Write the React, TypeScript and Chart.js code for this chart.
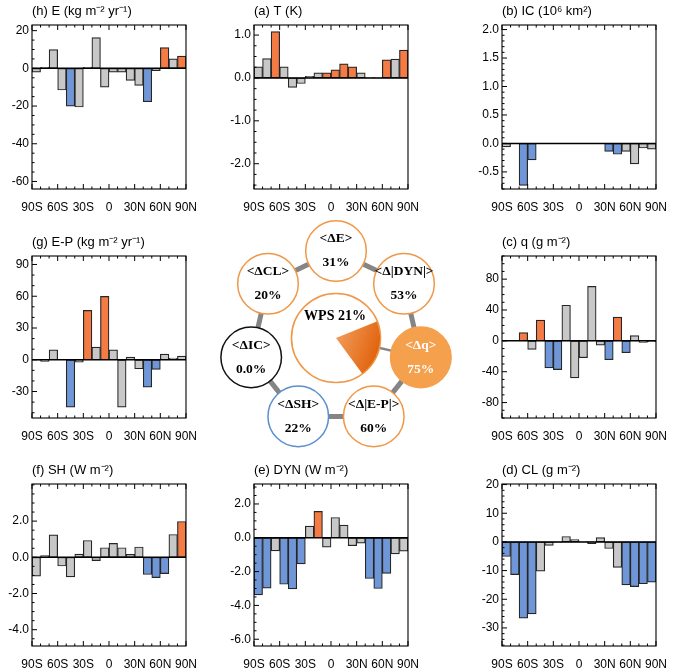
import React, { useEffect, useRef } from 'react';
import { Chart, registerables } from 'chart.js';

Chart.register(...registerables);

// ---------- shared latitude axis ----------
const LAT_CENTERS = [-85, -75, -65, -55, -45, -35, -25, -15, -5, 5, 15, 25, 35, 45, 55, 65, 75, 85];
const LAT_TICKS = [-90, -60, -30, 0, 30, 60, 90];

// ---------- (h) E ----------
const E_TITLE = '(h) E (kg m⁻² yr⁻¹)';
const E_VALUES = [-2, 0.5, 10, -11.5, -20, -20.5, 0.6, 16.3, -10, -2, -2, -6.4, -9, -17.7, -1.2, 11, 5, 6.5];
const E_SIG = [0, 0, 0, 0, 1, 0, 0, 0, 0, 0, 0, 0, 0, 1, 0, 1, 0, 1];
const E_RANGE = [-64, 23];
const E_TICKS = [-60, -40, -20, 0, 20];

// ---------- (a) T ----------
const T_TITLE = '(a) T (K)';
const T_VALUES = [0.26, 0.45, 1.08, 0.26, -0.22, -0.13, 0.04, 0.12, 0.12, 0.19, 0.33, 0.26, 0.12, 0.01, 0.01, 0.42, 0.44, 0.65];
const T_SIG = [0, 0, 1, 0, 0, 0, 0, 0, 1, 1, 1, 1, 0, 0, 0, 1, 0, 1];
const T_RANGE = [-2.59, 1.235];
const T_TICKS = [-2, -1, 0, 1];

// ---------- (b) IC ----------
const IC_TITLE = '(b) IC (10⁶ km²)';
const IC_VALUES = [-0.06, 0, -0.735, -0.29, 0, 0, 0, 0, 0, 0, 0, 0, -0.14, -0.19, -0.14, -0.36, -0.08, -0.1];
const IC_SIG = [0, 0, 1, 1, 0, 0, 0, 0, 0, 0, 0, 0, 1, 1, 0, 0, 0, 0];
const IC_RANGE = [-0.8, 2.08];
const IC_TICKS = [-0.5, 0, 0.5, 1, 1.5, 2];

// ---------- (g) E-P ----------
const EP_TITLE = '(g) E-P (kg m⁻² yr⁻¹)';
const EP_VALUES = [-0.3, -1.5, 9.4, 0, -44.7, -2.2, 46.6, 12, 59.8, 9.4, -44.7, 2.5, -8.5, -25.8, -9.1, 5.4, 1.6, 3.5];
const EP_SIG = [0, 0, 0, 0, 1, 0, 1, 0, 1, 0, 0, 0, 0, 1, 1, 0, 0, 0];
const EP_RANGE = [-55, 98];
const EP_TICKS = [-30, 0, 30, 60, 90];

// ---------- (c) q ----------
const Q_TITLE = '(c) q (g m⁻²)';
const Q_VALUES = [0, 0, 10.7, -11.1, 27, -35, -37.2, 46.2, -47.9, -21.8, 70.6, -5.6, -24.4, 30.8, -15.4, 6.8, -2, -1];
const Q_SIG = [0, 0, 1, 0, 1, 1, 1, 0, 0, 0, 0, 0, 1, 1, 1, 0, 0, 0];
const Q_RANGE = [-100, 110];
const Q_TICKS = [-80, -40, 0, 40, 80];

// ---------- (f) SH ----------
const SH_TITLE = '(f) SH (W m⁻²)';
const SH_VALUES = [-1.04, 0.09, 1.24, -0.48, -1.08, 0.18, 0.93, -0.18, 0.53, 0.77, 0.53, 0.16, 0.57, -0.95, -1.12, -0.9, 1.26, 1.98];
const SH_SIG = [0, 0, 0, 0, 0, 0, 0, 0, 0, 0, 0, 0, 0, 1, 1, 1, 0, 1];
const SH_RANGE = [-4.9, 4.05];
const SH_TICKS = [-4, -2, 0, 2];

// ---------- (e) DYN ----------
const DYN_TITLE = '(e) DYN (W m⁻²)';
const DYN_VALUES = [-3.38, -2.98, -0.77, -2.75, -3.02, -1.54, 0.69, 1.56, -0.55, 1.2, 0.75, -0.47, -0.32, -2.41, -3.0, -2.11, -0.95, -0.79];
const DYN_SIG = [1, 1, 0, 1, 1, 1, 0, 1, 0, 0, 0, 0, 0, 1, 1, 1, 0, 0];
const DYN_RANGE = [-6.4, 3.18];
const DYN_TICKS = [-6, -4, -2, 0, 2];

// ---------- (d) CL ----------
const CL_TITLE = '(d) CL (g m⁻²)';
const CL_VALUES = [-5.1, -11.4, -26.6, -25.1, -10.2, -1.2, -0.2, 1.9, 0.8, 0.1, -0.6, 1.5, -2.3, -8.9, -15, -15.6, -14.6, -14];
const CL_SIG = [1, 1, 1, 1, 0, 0, 0, 0, 0, 0, 0, 0, 0, 0, 1, 1, 1, 1];
const CL_RANGE = [-36.3, 20.2];
const CL_TICKS = [-30, -20, -10, 0, 10, 20];

// ---------- centre diagram ----------
const NODE_LABELS = ['<ΔE>', '<Δ|DYN|>', '<Δq>', '<Δ|E-P|>', '<ΔSH>', '<ΔIC>', '<ΔCL>'];
const NODE_PERCENTS = ['31%', '53%', '75%', '60%', '22%', '0.0%', '20%'];
const NODE_GROUP = ['warm', 'warm', 'key', 'warm', 'cool', 'neutral', 'warm'];
const WPS_LABEL = 'WPS';
const WPS_PERCENT = 21;

// ---------- styling ----------
const SANS = '"Liberation Sans", Arial, Helvetica, sans-serif';
const SERIF = '"Liberation Serif", "Times New Roman", serif';
const ORANGE = '#f47c44';
const BLUE = '#6f96d6';
const GRAY = '#c8c8c8';
const CIRCLE_ORANGE = '#f09848';
const KEY_FILL = '#f5a04d';
const COOL = '#5b8fd0';

const COL_LEFT = [32, 254, 502];
const ROW_TOP = [25, 256, 484];
const ROW_H = [164, 162, 162];
const BOX_W = 162;
const Y_AXIS_W = 40;
const TITLE_H = 30;
const X_AXIS_H = 28;
const RIGHT_PAD = 14;

type PanelCfg = {
  title: string; values: number[]; sig: number[]; range: number[]; ticks: number[];
  dec: number; minor: number; col: number; row: number;
};

const PANELS: PanelCfg[] = [
  { title: E_TITLE, values: E_VALUES, sig: E_SIG, range: E_RANGE, ticks: E_TICKS, dec: 0, minor: 5, col: 0, row: 0 },
  { title: T_TITLE, values: T_VALUES, sig: T_SIG, range: T_RANGE, ticks: T_TICKS, dec: 1, minor: 0.25, col: 1, row: 0 },
  { title: IC_TITLE, values: IC_VALUES, sig: IC_SIG, range: IC_RANGE, ticks: IC_TICKS, dec: 1, minor: 0.1, col: 2, row: 0 },
  { title: EP_TITLE, values: EP_VALUES, sig: EP_SIG, range: EP_RANGE, ticks: EP_TICKS, dec: 0, minor: 10, col: 0, row: 1 },
  { title: Q_TITLE, values: Q_VALUES, sig: Q_SIG, range: Q_RANGE, ticks: Q_TICKS, dec: 0, minor: 10, col: 2, row: 1 },
  { title: SH_TITLE, values: SH_VALUES, sig: SH_SIG, range: SH_RANGE, ticks: SH_TICKS, dec: 1, minor: 0.5, col: 0, row: 2 },
  { title: DYN_TITLE, values: DYN_VALUES, sig: DYN_SIG, range: DYN_RANGE, ticks: DYN_TICKS, dec: 1, minor: 0.5, col: 1, row: 2 },
  { title: CL_TITLE, values: CL_VALUES, sig: CL_SIG, range: CL_RANGE, ticks: CL_TICKS, dec: 0, minor: 2, col: 2, row: 2 },
];

const latLabel = (v: number) => (v < 0 ? `${-v}S` : v > 0 ? `${v}N` : '0');

const nclFrame = {
  id: 'nclFrame',
  afterDatasetsDraw(chart: any, _args: any, opts: any) {
    const { ctx, chartArea: a, scales } = chart;
    const x = scales.x, y = scales.y;
    ctx.save();
    ctx.strokeStyle = '#000';
    const seg = (x1: number, y1: number, x2: number, y2: number) => {
      ctx.beginPath(); ctx.moveTo(x1, y1); ctx.lineTo(x2, y2); ctx.stroke();
    };
    // zero line
    ctx.lineWidth = 1.5;
    const y0 = y.getPixelForValue(0);
    seg(a.left, y0, a.right, y0);
    // frame
    ctx.lineWidth = 1.1;
    ctx.strokeRect(a.left, a.top, a.right - a.left, a.bottom - a.top);
    // y ticks (inward, left side)
    ctx.lineWidth = 1;
    const minor = opts.minor;
    const majors: number[] = opts.majors;
    const k0 = Math.ceil(y.min / minor - 1e-6), k1 = Math.floor(y.max / minor + 1e-6);
    for (let k = k0; k <= k1; k++) {
      const v = k * minor;
      const isMajor = majors.some((m) => Math.abs(m - v) < minor * 1e-3);
      const py = y.getPixelForValue(v);
      seg(a.left, py, a.left + (isMajor ? 5 : 2.5), py);
    }
    // x ticks (inward, top and bottom)
    for (let v = -90; v <= 90; v += 10) {
      const px = x.getPixelForValue(v);
      const len = v % 30 === 0 ? 5 : 2.5;
      seg(px, a.bottom, px, a.bottom - len);
      seg(px, a.top, px, a.top + len);
    }
    ctx.restore();
  },
};

function BarPanel({ cfg }: { cfg: PanelCfg }) {
  const ref = useRef<HTMLCanvasElement>(null);
  const w = Y_AXIS_W + BOX_W + RIGHT_PAD;
  const h = TITLE_H + ROW_H[cfg.row] + X_AXIS_H;
  const left = COL_LEFT[cfg.col] - Y_AXIS_W;
  const top = ROW_TOP[cfg.row] - TITLE_H;
  useEffect(() => {
    const chart = new Chart(ref.current as HTMLCanvasElement, {
      type: 'bar',
      data: {
        datasets: [
          {
            data: LAT_CENTERS.map((x, i) => ({ x, y: cfg.values[i] })),
            backgroundColor: cfg.values.map((v, i) => (cfg.sig[i] ? (v >= 0 ? ORANGE : BLUE) : GRAY)),
            borderColor: '#262626',
            borderWidth: 1.2,
            borderSkipped: false,
            categoryPercentage: 1,
            barPercentage: 1,
          } as any,
        ],
      },
      options: {
        animation: false,
        responsive: false,
        events: [],
        layout: { padding: { left: 0, right: RIGHT_PAD, top: 0, bottom: 0 } },
        plugins: {
          legend: { display: false },
          tooltip: { enabled: false },
          title: {
            display: true,
            text: cfg.title,
            align: 'start',
            fullSize: false,
            color: '#000',
            font: { family: SANS, size: 13, weight: 'normal' },
            padding: { top: 8.5, bottom: 5.9 },
          },
          nclFrame: { minor: cfg.minor, majors: cfg.ticks },
        } as any,
        scales: {
          x: {
            type: 'linear',
            min: -90,
            max: 90,
            offset: false,
            grid: { display: false, drawTicks: false },
            border: { display: false },
            afterFit: (s: any) => { s.height = X_AXIS_H; },
            afterBuildTicks: (s: any) => { s.ticks = LAT_TICKS.map((v) => ({ value: v })); },
            ticks: {
              autoSkip: false,
              maxRotation: 0,
              padding: 11,
              color: '#000',
              font: { family: SANS, size: 12 },
              callback: (v: any) => latLabel(Number(v)),
            },
          },
          y: {
            type: 'linear',
            min: cfg.range[0],
            max: cfg.range[1],
            grid: { display: false, drawTicks: false },
            border: { display: false },
            afterFit: (s: any) => { s.width = Y_AXIS_W; },
            afterBuildTicks: (s: any) => { s.ticks = cfg.ticks.map((v) => ({ value: v })); },
            ticks: {
              padding: 3,
              color: '#000',
              font: { family: SANS, size: 12 },
              callback: (v: any) => Number(v).toFixed(cfg.dec),
            },
          },
        } as any,
      },
      plugins: [nclFrame as any],
    });
    return () => chart.destroy();
  }, []);
  return (
    <canvas
      ref={ref}
      width={w}
      height={h}
      style={{ position: 'absolute', left, top, width: w, height: h }}
    />
  );
}

// centre diagram geometry
const RING_CX = 336;
const RING_CY = 338;
const RING_R = 87;
const NODE_RADIUS = 30.3;
const WPS_RADIUS = 44.5;
const DIAG_W = 260;
const DIAG_H = 250;
const PIE_SIZE = 88;

const groupFill = (g: string) => (g === 'key' ? KEY_FILL : '#ffffff');
const groupBorder = (g: string) =>
  g === 'key' ? KEY_FILL : g === 'cool' ? COOL : g === 'neutral' ? '#111111' : CIRCLE_ORANGE;
const groupText = (g: string) => (g === 'key' ? '#ffffff' : '#000000');

const nodeLabels = {
  id: 'nodeLabels',
  afterDatasetsDraw(chart: any) {
    const { ctx } = chart;
    const meta = chart.getDatasetMeta(2);
    ctx.save();
    ctx.textAlign = 'center';
    ctx.textBaseline = 'middle';
    ctx.font = `bold 13.5px ${SERIF}`;
    meta.data.forEach((pt: any, i: number) => {
      ctx.fillStyle = groupText(NODE_GROUP[i]);
      ctx.fillText(NODE_LABELS[i], pt.x, pt.y - 12);
      ctx.fillText(NODE_PERCENTS[i], pt.x, pt.y + 12);
    });
    const c = chart.getDatasetMeta(3).data[0];
    ctx.fillStyle = '#000';
    ctx.font = `bold 14px ${SERIF}`;
    ctx.fillText(`${WPS_LABEL} ${WPS_PERCENT}%`, c.x - 1, c.y - 22);
    ctx.restore();
  },
};

function CenterDiagram() {
  const ringRef = useRef<HTMLCanvasElement>(null);
  const pieRef = useRef<HTMLCanvasElement>(null);
  useEffect(() => {
    const n = NODE_LABELS.length;
    const nodes = NODE_LABELS.map((_, i) => {
      const a = (i * 2 * Math.PI) / n;
      return { x: RING_R * Math.sin(a), y: RING_R * Math.cos(a) };
    });
    const keyIdx = NODE_GROUP.indexOf('key');
    const ring = new Chart(ringRef.current as HTMLCanvasElement, {
      type: 'scatter',
      data: {
        datasets: [
          {
            type: 'line',
            data: [...nodes, nodes[0]],
            borderColor: '#858585',
            borderWidth: 5,
            pointRadius: 0,
            fill: false,
            tension: 0,
            clip: false,
            order: 3,
          } as any,
          {
            type: 'line',
            data: [{ x: 0, y: 0 }, nodes[keyIdx]],
            borderColor: '#858585',
            borderWidth: 2.5,
            pointRadius: 0,
            fill: false,
            clip: false,
            order: 3,
          } as any,
          {
            type: 'scatter',
            data: nodes,
            pointRadius: NODE_RADIUS,
            pointBackgroundColor: NODE_GROUP.map(groupFill),
            pointBorderColor: NODE_GROUP.map(groupBorder),
            pointBorderWidth: 1.5,
            clip: false,
            order: 1,
          } as any,
          {
            type: 'scatter',
            data: [{ x: 0, y: 0 }],
            pointRadius: WPS_RADIUS,
            pointBackgroundColor: '#ffffff',
            pointBorderColor: CIRCLE_ORANGE,
            pointBorderWidth: 1.6,
            clip: false,
            order: 1,
          } as any,
        ],
      },
      options: {
        animation: false,
        responsive: false,
        events: [],
        layout: { padding: 0, autoPadding: false },
        plugins: { legend: { display: false }, tooltip: { enabled: false } },
        scales: {
          x: { type: 'linear', min: -DIAG_W / 2, max: DIAG_W / 2, display: false },
          y: { type: 'linear', min: -DIAG_H / 2, max: DIAG_H / 2, display: false },
        },
      } as any,
      plugins: [nodeLabels as any],
    });
    const pie = new Chart(pieRef.current as HTMLCanvasElement, {
      type: 'pie',
      data: {
        datasets: [
          {
            data: [WPS_PERCENT, 100 - WPS_PERCENT],
            backgroundColor: (ctx: any) => {
              if (ctx.dataIndex !== 0) return 'rgba(0,0,0,0)';
              const ch = ctx.chart;
              const a = ch.chartArea;
              if (!a) return ORANGE;
              const cx = (a.left + a.right) / 2;
              const cy = (a.top + a.bottom) / 2;
              const g = ch.ctx.createLinearGradient(cx - 5, cy - 5, a.right, cy + 12);
              g.addColorStop(0, '#f4a263');
              g.addColorStop(1, '#e0620c');
              return g;
            },
            borderWidth: 0,
          } as any,
        ],
      },
      options: {
        animation: false,
        responsive: false,
        events: [],
        rotation: 68,
        layout: { padding: 0 },
        plugins: { legend: { display: false }, tooltip: { enabled: false } },
      } as any,
    });
    return () => {
      ring.destroy();
      pie.destroy();
    };
  }, []);
  return (
    <>
      <canvas
        ref={ringRef}
        width={DIAG_W}
        height={DIAG_H}
        style={{ position: 'absolute', left: RING_CX - DIAG_W / 2, top: RING_CY - DIAG_H / 2, width: DIAG_W, height: DIAG_H }}
      />
      <canvas
        ref={pieRef}
        width={PIE_SIZE}
        height={PIE_SIZE}
        style={{ position: 'absolute', left: RING_CX - PIE_SIZE / 2, top: RING_CY - PIE_SIZE / 2, width: PIE_SIZE, height: PIE_SIZE }}
      />
    </>
  );
}

export default function App() {
  return (
    <div style={{ position: 'absolute', left: 0, top: 0, width: 675, height: 669, background: '#fff', overflow: 'hidden' }}>
      {PANELS.map((p, i) => (
        <BarPanel key={i} cfg={p} />
      ))}
      <CenterDiagram />
    </div>
  );
}
